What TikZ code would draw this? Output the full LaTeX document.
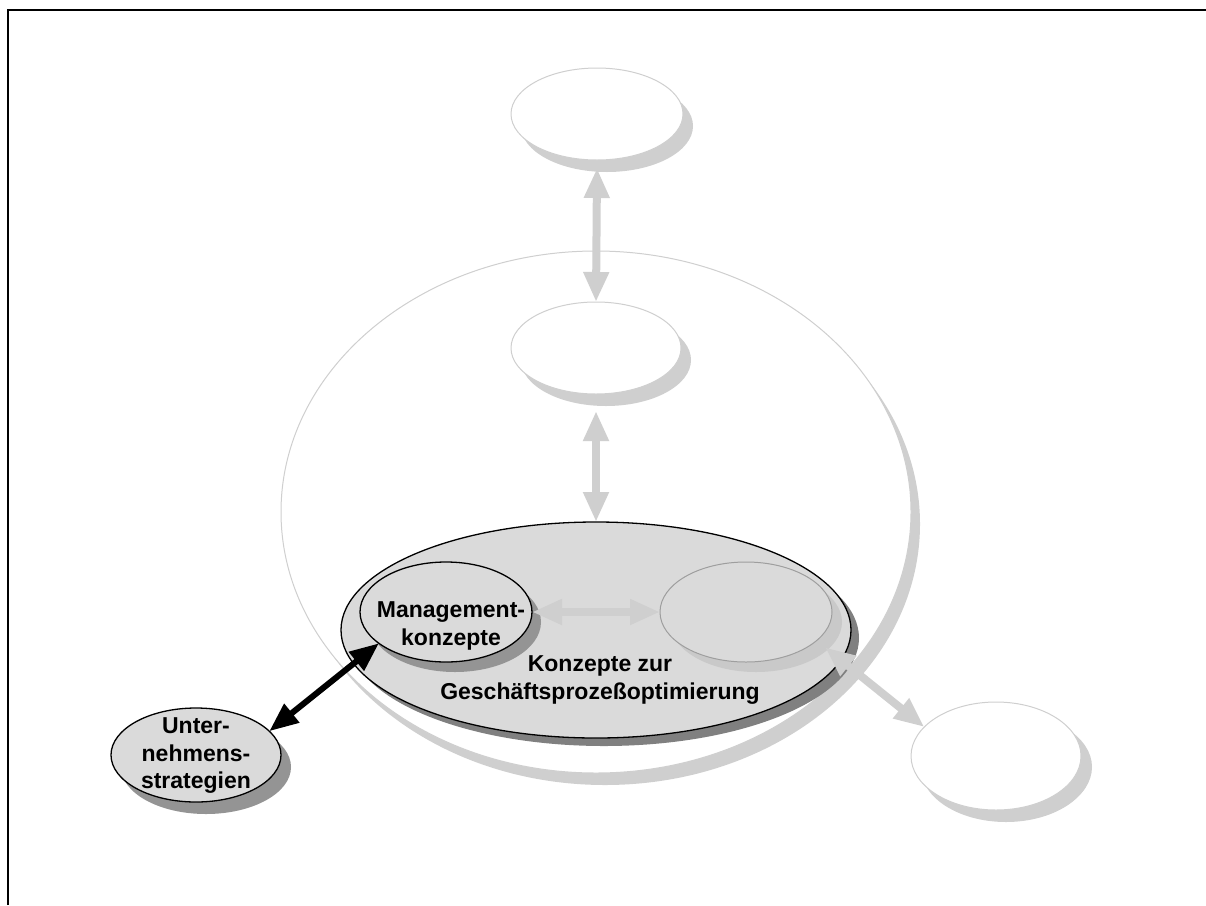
\documentclass[tikz,border=0pt]{standalone}
\usepackage{fontspec}
\setmainfont{Liberation Sans}
\usetikzlibrary{shapes.geometric,shadows,arrows.meta}
\definecolor{lightline}{gray}{0.81}
\definecolor{fillgray}{gray}{0.855}
\definecolor{darkshadow}{gray}{0.50}
\definecolor{midshadow}{gray}{0.58}
\definecolor{innerline}{gray}{0.62}
\definecolor{innershadow}{gray}{0.79}
\tikzset{
  plainell/.style={ellipse, inner sep=0pt, outer sep=0pt},
  whiteell/.style={plainell, draw=lightline, line width=1pt, fill=white,
    general shadow={fill=lightline, shadow xshift=10pt, shadow yshift=-12pt}},
  grayell/.style={plainell, draw=black, line width=1.3pt, fill=fillgray},
  grayarrow/.style={draw=lightline, line width=8pt,
    {Triangle[length=30pt,width=24pt]}-{Triangle[length=30pt,width=24pt]}},
  blackarrow/.style={draw=black, line width=6pt,
    {Triangle[length=29pt,width=23pt]}-{Triangle[length=29pt,width=23pt]}},
  lbl/.style={align=center, inner sep=0pt, font=\bfseries\fontsize{23}{27.5}\selectfont}
}
\begin{document}
\begin{tikzpicture}[x=1pt,y=-1pt]
\useasboundingbox (0,0) rectangle (1206,905);
% frame
\draw[line width=2pt] (8,905) -- (8,10) -- (1206,10);
% outer circle
\node[plainell, draw=lightline, line width=1pt, fill=white,
  minimum width=630pt, minimum height=522pt,
  general shadow={fill=lightline, shadow xshift=9pt, shadow yshift=-12pt}] (outer) at (596,512) {};
% white ellipses
\node[whiteell, minimum width=172pt, minimum height=92pt] (top) at (597,114) {};
\node[whiteell, minimum width=170pt, minimum height=92pt] (mid) at (596,348) {};
% big gray ellipse
\node[grayell, minimum width=510pt, minimum height=216pt,
  general shadow={fill=darkshadow, shadow xshift=8pt, shadow yshift=-8pt}] (big) at (596,630) {};
\node[grayell, minimum width=172pt, minimum height=100pt,
  general shadow={fill=midshadow, shadow xshift=9pt, shadow yshift=-10pt}] (mgmt) at (446,612) {};
\node[plainell, draw=innerline, line width=1pt, fill=fillgray,
  minimum width=172pt, minimum height=100pt,
  general shadow={fill=innershadow, shadow xshift=10pt, shadow yshift=-10pt}] (inner) at (746,612) {};
\node[whiteell, minimum width=170pt, minimum height=108pt,
  general shadow={fill=lightline, shadow xshift=11pt, shadow yshift=-11pt}] (br) at (996,756) {};
\node[grayell, minimum width=170pt, minimum height=94pt,
  general shadow={fill=midshadow, shadow xshift=10pt, shadow yshift=-12pt}] (us) at (196,755) {};
% connectors
\draw[grayarrow] ([yshift=-8pt]top.south) -- (mid.north);
\draw[grayarrow] ([yshift=-17pt]mid.south) -- (big.north);
\draw[grayarrow] (mgmt.east) -- (inner.west);
\draw[grayarrow] ([xshift=12pt,yshift=-4pt]inner.-25) -- (br.158);
\draw[blackarrow] (us.18) -- (mgmt.205);
% labels
\node[lbl] (mgmtlabel) at (451,626) {Management-\\konzepte};
\node[lbl] (biglabel) at (600,680) {Konzepte zur\\Geschäftsprozeßoptimierung};
\node[lbl] (uslabel) at (196,756) {Unter-\\nehmens-\\strategien};
\end{tikzpicture}
\end{document}
